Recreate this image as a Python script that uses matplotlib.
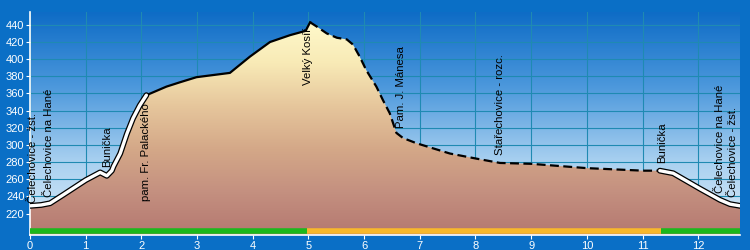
# profil trasy: Čelechovice - Velký Kosíř - Čelechovice
import numpy as np
import matplotlib
matplotlib.use("Agg")
import matplotlib.pyplot as plt
from matplotlib.colors import LinearSegmentedColormap
from matplotlib.patches import Polygon

plt.rcParams['font.family'] = ['Liberation Sans', 'DejaVu Sans']

# vzdalenost [km] a nadmorska vyska [m]
km = [0, 0.2, 0.36, 0.6, 1.0, 1.26, 1.38, 1.47, 1.50, 1.62, 1.74, 1.85, 1.97, 2.09,
      2.45, 2.69, 2.99, 3.59, 3.95, 4.31, 4.67, 4.95, 5.03, 5.15, 5.33, 5.51, 5.69,
      5.80, 5.92, 6.04, 6.22, 6.34, 6.46, 6.58, 6.70, 6.94, 7.54, 8.02, 8.44, 9.0,
      9.99, 11.01, 11.31, 11.55, 12.03, 12.39, 12.57, 12.75]
elev = [229, 230, 232, 242, 259, 268, 264, 270, 275, 290, 313, 331, 346, 358,
        368, 373, 379, 384, 403, 420, 428, 433, 443, 438, 430, 425, 423,
        417, 403, 387, 368, 352, 337, 314, 308, 302, 290, 284, 279, 278,
        273, 270, 270, 267, 249, 236, 231, 229]

# useky cary: (od, do, styl)
seg_from = [0, 2.09, 5.03, 11.31]
seg_to = [2.09, 5.03, 11.31, 12.75]
seg_style = ["white", "solid", "dashed", "white"]

# barevny pruh dole
bar_from = [0, 4.97, 11.33]
bar_to = [4.97, 11.33, 12.75]
bar_color = ["#1cb81c", "#f8b82c", "#1cb81c"]

# popisky bodu
lab_text = ["Čelechovice - žst.", "Čelechovice na Hané", "Bunička", "pam. Fr. Palackého",
            "Velký Kosíř", "Pam. J. Mánesa", "Stařechovice - rozc.", "Bunička",
            "Čelechovice na Hané", "Čelechovice - žst."]
lab_km = [0.05, 0.35, 1.38, 2.09, 4.99, 6.66, 8.44, 11.35, 12.39, 12.62]
lab_y = [232, 239, 274, 349, 436, 320, 288, 279, 244, 239]
lab_va = ["bottom", "bottom", "bottom", "top", "top", "bottom", "bottom", "bottom",
          "bottom", "bottom"]

x0, x1, y0, y1 = 0, 12.75, 195, 455

fig = plt.figure(figsize=(7.5, 2.5), dpi=100, facecolor="#0a6fc6")
ax = fig.add_axes([30 / 750, 15 / 250, 710 / 750, 223 / 250])
ax.set_facecolor("none")

# pozadi - modry prechod
sky = LinearSegmentedColormap.from_list("sky", ["#dcedf9", "#a8d0f0", "#4c98dc", "#0e6cc6"])
grad = np.linspace(0, 1, 256).reshape(-1, 1)
ax.imshow(grad, cmap=sky, extent=[x0, x1, y0, y1], origin="lower", aspect="auto", zorder=0)

ax.set_xticks(range(0, 13))
ax.set_yticks(range(220, 441, 20))
ax.grid(True, color="#1f8ab2", lw=0.8, zorder=1)

# vypln pod profilem
ground = LinearSegmentedColormap.from_list(
    "ground", ["#b47870", "#c49080", "#d4a888", "#e6c69c", "#f8eab6", "#fffacc"])
im = ax.imshow(grad, cmap=ground, extent=[x0, x1, y0, 445], origin="lower",
               aspect="auto", zorder=2)
poly = Polygon(np.column_stack([np.r_[km[0], km, km[-1]], np.r_[y0, elev, y0]]),
               closed=True, facecolor="none", edgecolor="none", transform=ax.transData)
ax.add_patch(poly)
im.set_clip_path(poly)

kx = np.array(km)
ky = np.array(elev)
for a, b, st in zip(seg_from, seg_to, seg_style):
    m = (kx >= a - 1e-9) & (kx <= b + 1e-9)
    if st == "white":
        ax.plot(kx[m], ky[m], color="black", lw=4.2, solid_capstyle="round", zorder=4)
        ax.plot(kx[m], ky[m], color="white", lw=2.4, solid_capstyle="round", zorder=5)
    elif st == "solid":
        ax.plot(kx[m], ky[m], color="black", lw=1.6, zorder=4)
    else:
        ax.plot(kx[m], ky[m], color="black", lw=1.6, dashes=(4, 2), zorder=4)

for a, b, c in zip(bar_from, bar_to, bar_color):
    ax.plot([a, b], [199.5, 199.5], color=c, lw=4, solid_capstyle="butt", zorder=6)

for t, x, y, va in zip(lab_text, lab_km, lab_y, lab_va):
    ax.text(x, y, t, rotation=90, ha="center", va=va, fontsize=8.2, color="black", zorder=7)

ax.set_xlim(x0, x1)
ax.set_ylim(y0, y1)
for s in ["top", "right"]:
    ax.spines[s].set_visible(False)
for s in ["left", "bottom"]:
    ax.spines[s].set_color("white")
    ax.spines[s].set_linewidth(1.2)
ax.tick_params(colors="white", labelsize=8, length=3, width=0.8, pad=1)

fig.savefig("out.png", dpi=100, facecolor=fig.get_facecolor())
